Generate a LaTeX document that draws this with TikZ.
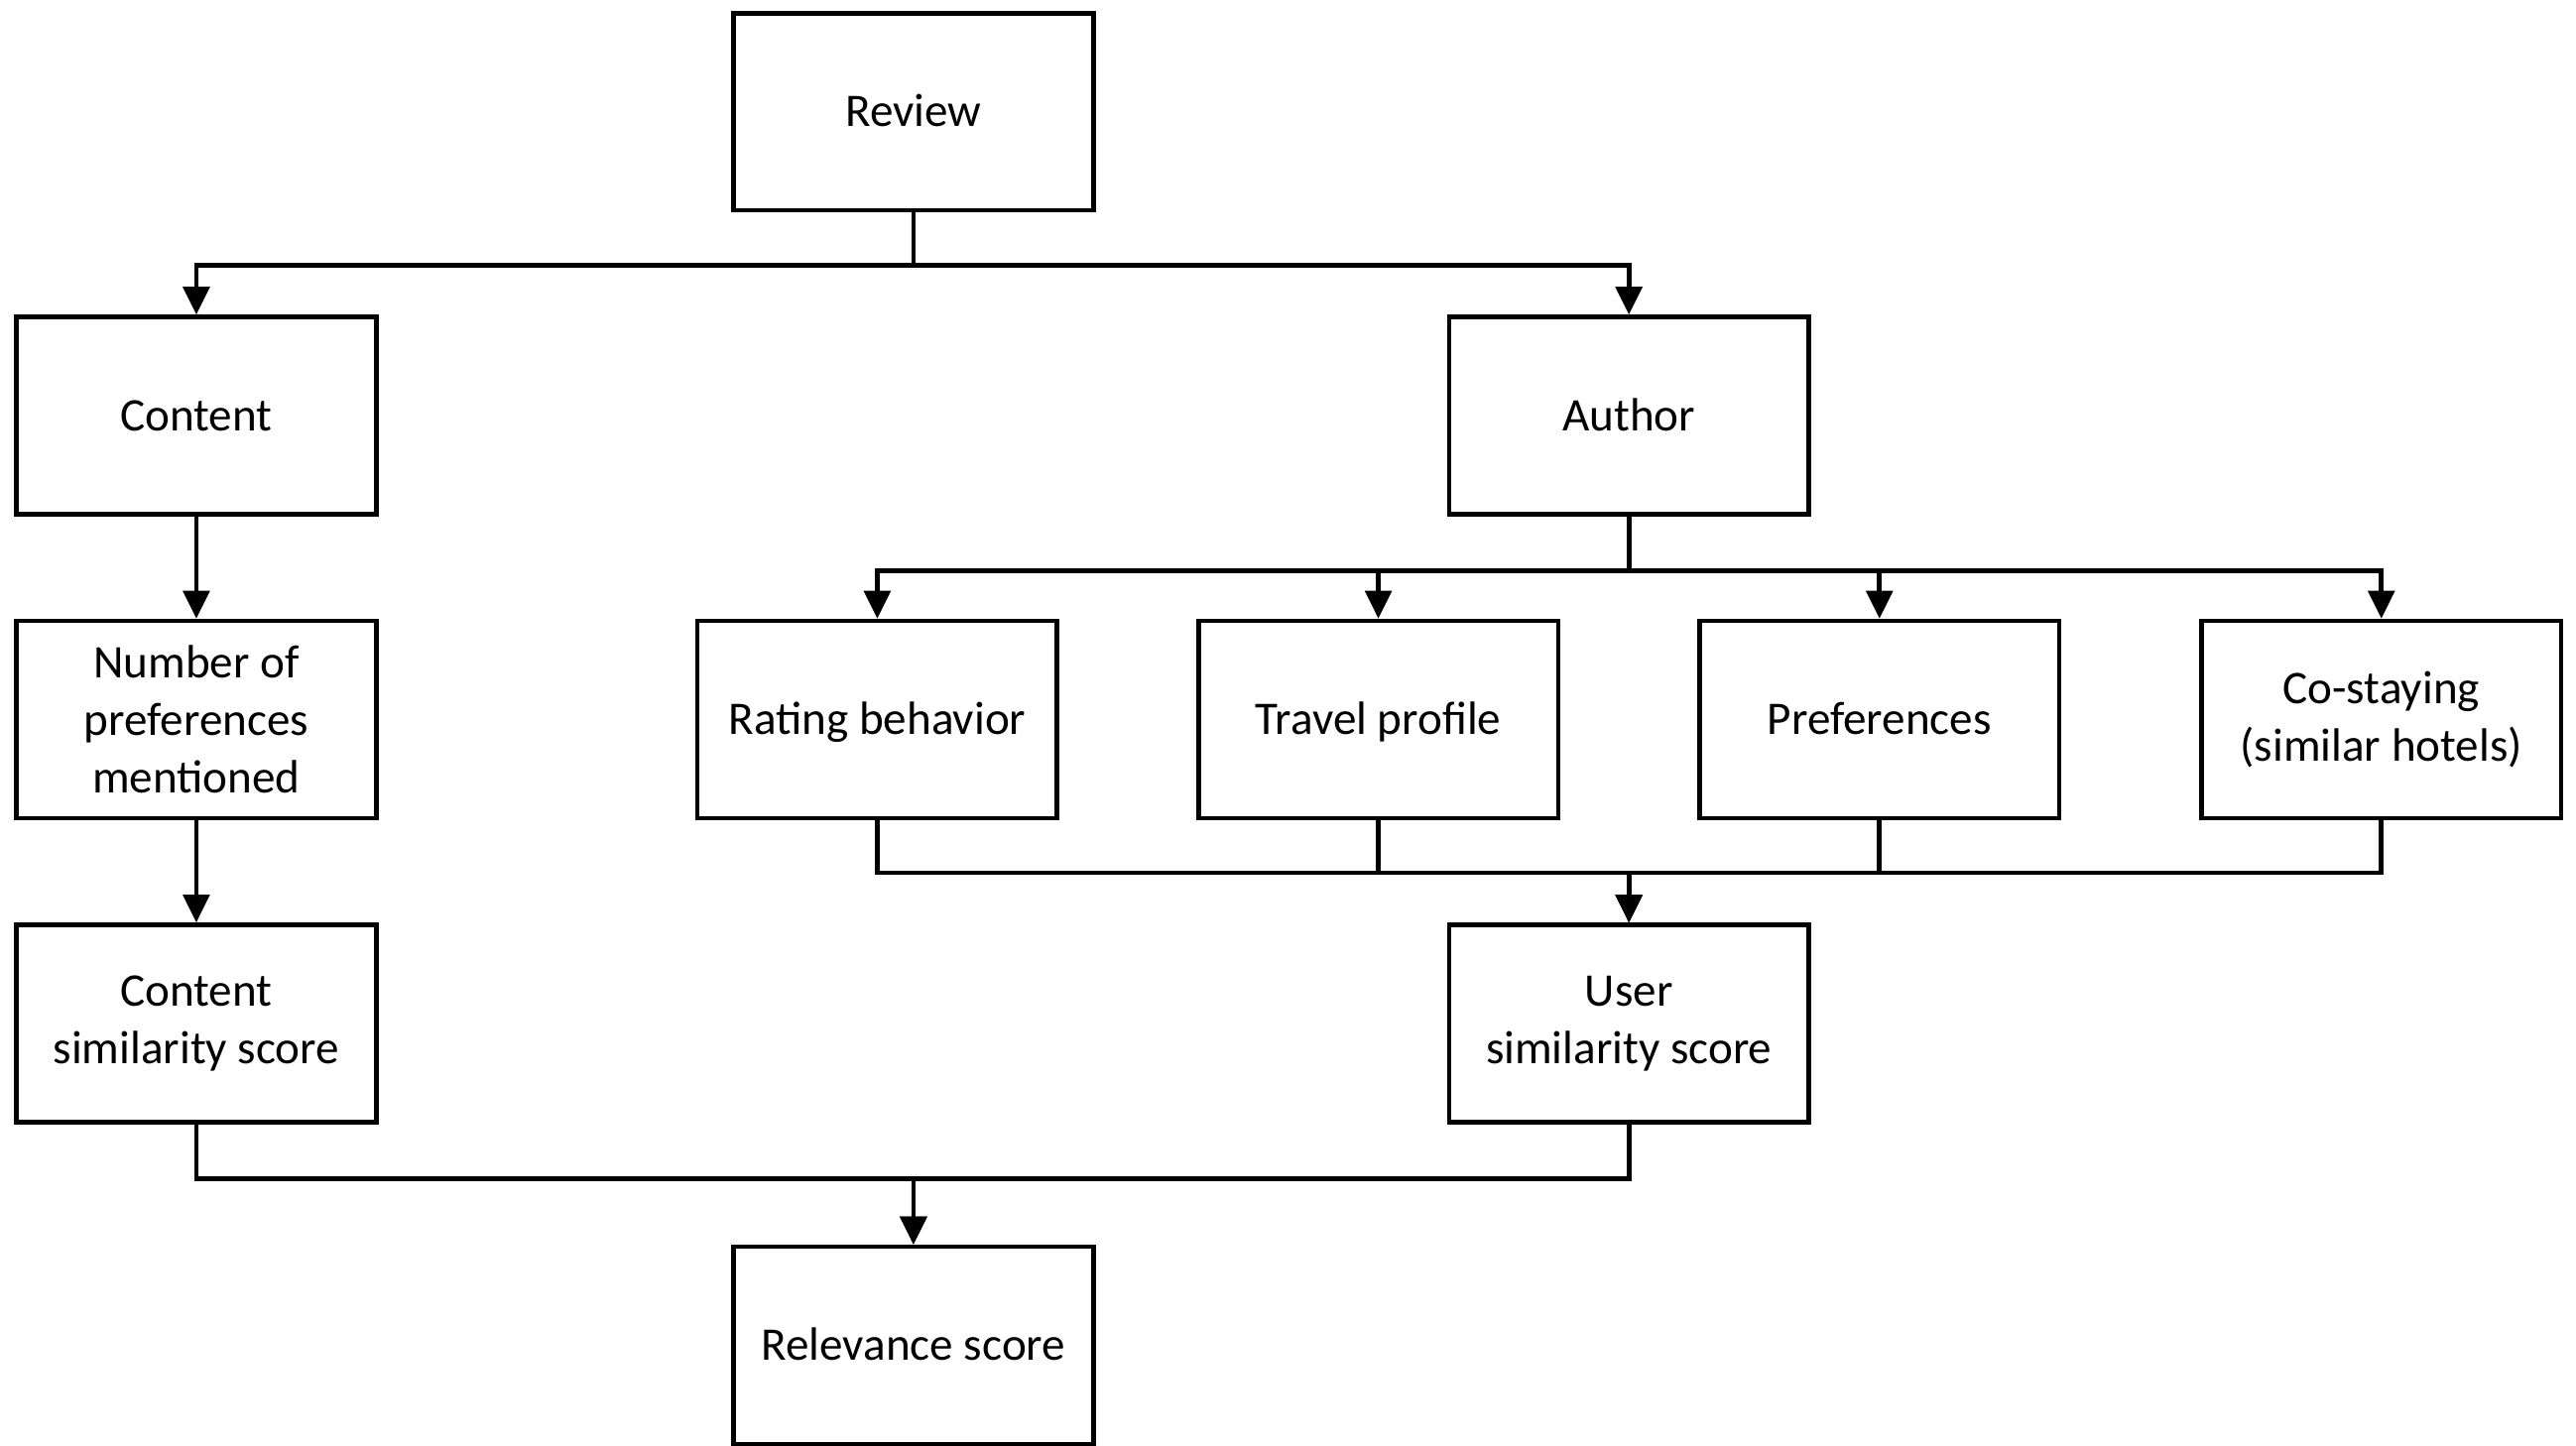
\documentclass[tikz,border=0pt]{standalone}
\usepackage{fontspec}
\setmainfont{Carlito}
\usepackage{tikz}
\usetikzlibrary{arrows.meta,positioning}

\begin{document}
\begin{tikzpicture}[
    font=\fontsize{8.1}{10}\selectfont,
    block/.style={draw, line width=0.8pt, minimum width=2.19cm, minimum height=1.2cm, align=center, inner sep=1pt},
    oneline/.style={block, text height=1.55ex, text depth=0.45ex},
    arrow/.style={-{Triangle[length=1.7mm, width=1.6mm]}, line width=0.8pt}
]
\useasboundingbox (0,0) rectangle (15.68,-8.80);

\node[oneline] (rev) at (5.56,-0.68) {Review};
\node[oneline] (cont) at (1.195,-2.53) {Content};
\node[oneline] (auth) at (9.915,-2.53) {Author};
\node[block] (npref) at (1.195,-4.38) {Number of\\preferences\\mentioned};
\node[oneline] (rate) at (5.34,-4.38) {Rating behavior};
\node[oneline] (trav) at (8.39,-4.38) {Travel profile};
\node[oneline] (pref) at (11.44,-4.38) {Preferences};
\node[block] (costay) at (14.495,-4.38) {Co-staying\\(similar hotels)};
\node[block] (csim) at (1.195,-6.23) {Content\\similarity score};
\node[block] (usim) at (9.915,-6.23) {User\\similarity score};
\node[oneline] (rel) at (5.56,-8.19) {Relevance score};

\draw[arrow] (rev.south) -- ++(0,-0.32) -| (cont.north);
\draw[arrow] (rev.south) -- ++(0,-0.32) -| (auth.north);
\draw[arrow] (cont.south) -- (npref.north);
\draw[arrow] (npref.south) -- (csim.north);

\foreach \n in {rate,trav,pref,costay}
  \draw[arrow] (auth.south) -- ++(0,-0.33) -| (\n.north);
\foreach \n in {rate,trav,pref,costay}
  \draw[arrow] (\n.south) -- ++(0,-0.32) -| (usim.north);

\draw[arrow] (csim.south) -- ++(0,-0.33) -| (rel.north);
\draw[arrow] (usim.south) -- ++(0,-0.33) -| (rel.north);
\end{tikzpicture}
\end{document}
